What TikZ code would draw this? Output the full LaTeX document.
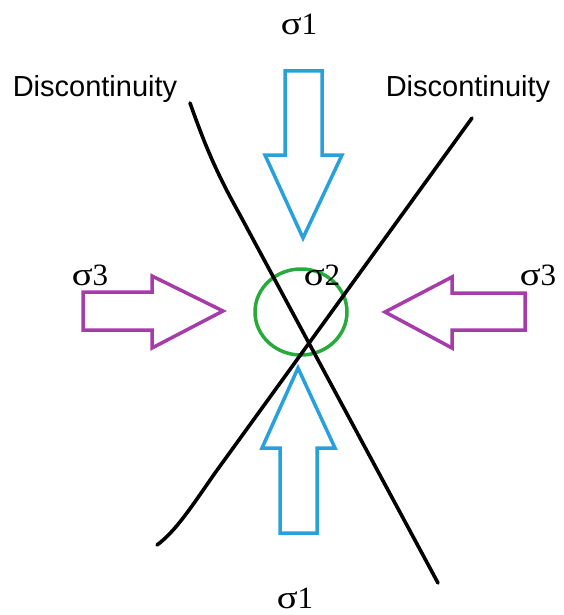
\documentclass[tikz,border=0pt]{standalone}
\usepackage{graphicx}
\usepackage{fontspec}
\setmainfont{Liberation Serif}
\newfontfamily\labelsans{Liberation Sans}
\newcommand{\sgm}{\scalebox{1.25}[1.05]{σ}}
\definecolor{arrowblue}{RGB}{40,160,220}
\definecolor{arrowpurple}{RGB}{165,60,170}
\definecolor{circgreen}{RGB}{40,170,60}
\begin{document}
\begin{tikzpicture}[x=1pt,y=-1pt,
  sig/.style={anchor=base,inner sep=0pt,font=\fontsize{31}{34}\selectfont},
  disc/.style={anchor=base,inner sep=0pt,font=\labelsans\fontsize{29}{32}\selectfont},
  fault/.style={line width=3.6pt,black,line cap=round},
  bluearrow/.style={draw=arrowblue,line width=3.5pt,line join=miter,fill=white},
  purplearrow/.style={draw=arrowpurple,line width=3.5pt,line join=miter,fill=white}]
\useasboundingbox (0,0) rectangle (563,615);
% arrows
\draw[bluearrow] (285,71) -- (322,71) -- (322,155) -- (342,155) -- (303,238) -- (265,155) -- (285,155) -- cycle;
\draw[bluearrow] (280,533) -- (317,533) -- (317,448) -- (335,448) -- (298,368) -- (262,448) -- (280,448) -- cycle;
\draw[purplearrow] (83,292) -- (152,292) -- (152,276) -- (223,311) -- (152,348) -- (152,330) -- (83,330) -- cycle;
\draw[purplearrow] (525,293) -- (452,293) -- (452,277) -- (385,312) -- (452,348) -- (452,330) -- (525,330) -- cycle;
% circle
\draw[circgreen,line width=3.5pt] (301,312) ellipse [x radius=46, y radius=43];
% discontinuities
\draw[fault] (190,103) .. controls (205,145) and (215,170) .. (240,215) -- (438,583);
\draw[fault] (472,118) -- (215,473) .. controls (192,506) and (176,531) .. (157,545);
% labels
\node[sig] (s1top) at (299,35) {\sgm1};
\node[sig] (s1bot) at (295,608) {\sgm1};
\node[sig] (s3left) at (90,285) {\sgm3};
\node[sig] (s2) at (322,285) {\sgm2};
\node[sig] (s3right) at (538,285) {\sgm3};
\node[disc] (dleft) at (95,96) {Discontinuity};
\node[disc] (dright) at (468,96) {Discontinuity};
\end{tikzpicture}
\end{document}
